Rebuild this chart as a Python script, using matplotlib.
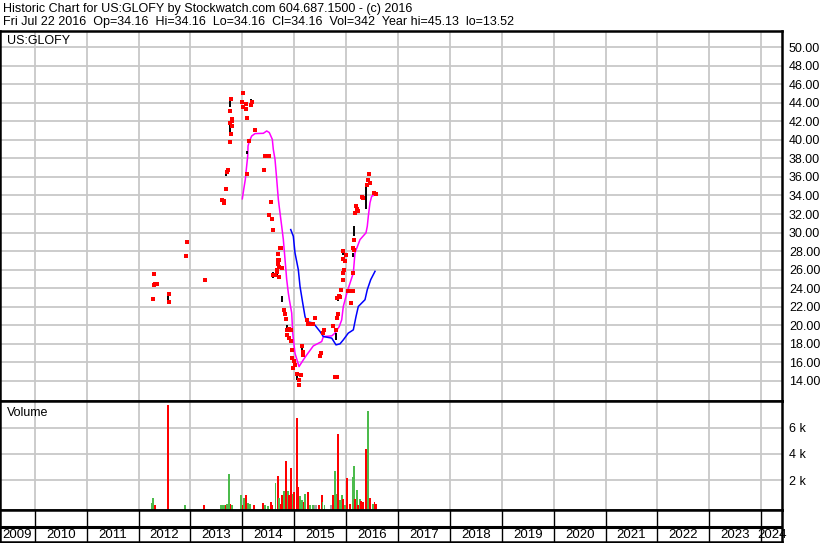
import matplotlib.pyplot as plt

plt.rcParams['font.family'] = ['Liberation Sans', 'DejaVu Sans']

# dates as decimal years
close_t = [2012.274, 2012.293, 2012.318, 2012.351, 2012.304, 2012.588, 2012.588, 2012.929, 2012.909,
           2013.276, 2013.609, 2013.647, 2013.647, 2013.686, 2013.719, 2013.705, 2013.782, 2013.757,
           2013.802, 2013.802, 2013.769, 2013.802, 2013.776, 2013.763, 2014.008, 2013.994, 2014.066,
           2014.008, 2014.066, 2014.187, 2014.168, 2014.091, 2014.245, 2014.123, 2014.096, 2014.412,
           2014.428, 2014.466, 2014.505, 2014.520, 2014.547, 2014.566, 2014.586, 2014.726, 2014.746,
           2014.682, 2014.694, 2014.713, 2014.682, 2014.707, 2014.759, 2014.663, 2014.674, 2014.597,
           2014.630, 2014.713, 2014.803, 2014.823, 2014.836, 2014.867, 2014.906, 2014.933, 2014.855,
           2014.906, 2014.938, 2014.958, 2014.952, 2015.002, 2015.015, 2014.971, 2015.060, 2015.098,
           2015.093, 2015.125, 2015.145, 2015.175, 2015.164, 2015.241, 2015.272, 2015.314, 2015.356,
           2015.401, 2015.580, 2015.561, 2015.516, 2015.497, 2015.786, 2015.815, 2015.742, 2015.805,
           2015.819, 2015.844, 2015.863, 2015.830, 2015.882, 2015.896, 2015.946, 2015.946, 2015.960,
           2015.979, 2015.946, 2015.998, 2015.934, 2016.031, 2016.089, 2016.077, 2016.139, 2016.139,
           2016.139, 2016.152, 2016.152, 2016.171, 2016.191, 2016.216, 2016.235, 2016.301, 2016.331,
           2016.408, 2016.428, 2016.460, 2016.447, 2016.537, 2016.576]
close_p = [22.86, 24.30, 24.45, 24.41, 25.49, 23.41, 22.51, 29.03, 27.44,
           24.84, 33.49, 33.35, 33.17, 34.68, 36.74, 36.49, 44.38, 43.08,
           42.22, 42.08, 41.86, 41.49, 40.63, 39.76, 45.03, 44.09, 43.87,
           43.59, 43.33, 44.09, 43.76, 42.32, 41.06, 39.84, 36.27, 36.74,
           38.25, 38.25, 38.25, 31.84, 33.28, 31.41, 30.32, 28.35, 28.35,
           27.70, 27.00, 27.00, 26.65, 26.25, 26.18, 25.92, 25.71, 25.38,
           25.38, 25.17, 21.68, 21.21, 20.70, 19.51, 19.59, 19.51, 18.97,
           18.62, 18.36, 17.35, 16.52, 16.19, 15.73, 15.37, 14.76, 14.11,
           13.52, 14.65, 17.78, 16.81, 17.17, 20.52, 20.16, 20.16, 20.16,
           20.84, 19.51, 19.22, 16.99, 16.73, 14.46, 14.46, 19.95, 19.51,
           20.78, 21.24, 23.11, 22.94, 23.05, 23.84, 24.84, 25.64, 25.92,
           26.90, 27.16, 27.62, 27.98, 23.65, 22.40, 23.65, 23.65, 25.64,
           28.35, 29.17, 28.16, 32.13, 32.84, 32.56, 32.30, 33.82, 33.75,
           35.08, 35.65, 35.37, 36.27, 34.29, 34.16]

# high-low ranges
hl_t = [2012.304, 2012.574, 2013.692, 2013.769, 2013.757, 2014.000, 2014.162, 2014.096, 2014.713,
        2014.663, 2014.590, 2014.771, 2014.861, 2015.145, 2015.060, 2015.844, 2015.934, 2016.152,
        2016.383, 2015.805, 2016.139]
hl_lo = [25.35, 22.46, 36.09, 43.59, 40.78, 44.81, 43.73, 38.43, 26.72,
         25.28, 25.10, 22.54, 19.30, 16.80, 14.10, 22.60, 27.60, 29.60,
         32.49, 18.40, 27.40]
hl_hi = [25.78, 23.62, 36.74, 44.49, 41.86, 45.13, 44.38, 38.79, 27.26,
         25.89, 25.70, 23.19, 20.05, 17.80, 15.00, 23.30, 28.20, 30.68,
         35.19, 19.20, 27.80]

# short moving average (magenta)
ma1_t = [2014.000, 2014.027, 2014.058, 2014.077, 2014.104, 2014.110, 2014.135, 2014.181, 2014.245,
         2014.405, 2014.470, 2014.520, 2014.578, 2014.597, 2014.630, 2014.663, 2014.694, 2014.726,
         2014.759, 2014.790, 2014.823, 2014.855, 2014.886, 2014.906, 2014.952, 2014.971, 2015.015,
         2015.093, 2015.175, 2015.241, 2015.368, 2015.530, 2015.561, 2015.723, 2015.786, 2015.869,
         2015.915, 2015.946, 2016.023, 2016.139, 2016.171, 2016.268, 2016.383, 2016.408, 2016.428,
         2016.460, 2016.493, 2016.576]
ma1_v = [33.64, 34.65, 35.73, 36.81, 38.25, 39.33, 39.84, 40.41, 40.67,
         40.70, 40.95, 40.78, 40.05, 38.97, 37.89, 35.73, 33.57, 32.13,
         30.68, 29.27, 27.11, 24.95, 23.51, 22.78, 21.32, 19.16, 16.99,
         15.55, 16.27, 16.81, 17.78, 18.25, 18.79, 18.86, 19.16, 19.88,
         20.59, 22.03, 23.65, 25.64, 27.81, 29.24, 29.97, 30.68, 31.76,
         33.21, 33.92, 34.11]

# long moving average (blue)
ma2_t = [2014.933, 2014.983, 2015.015, 2015.079, 2015.112, 2015.164, 2015.208, 2015.241, 2015.368,
         2015.497, 2015.561, 2015.723, 2015.805, 2015.882, 2015.946, 2016.042, 2016.139, 2016.191,
         2016.235, 2016.364, 2016.408, 2016.474, 2016.557]
ma2_v = [30.32, 29.60, 27.81, 26.00, 24.19, 22.40, 20.95, 20.41, 20.24,
         19.33, 18.79, 18.62, 17.89, 18.00, 18.43, 19.16, 19.51, 20.95,
         22.03, 22.76, 23.84, 24.92, 25.82]

# weekly volume, direction: 1 up, -1 down, 0 unchanged
vol_t = [2012.260, 2012.285, 2012.318, 2012.568, 2012.902, 2013.256, 2013.590, 2013.628, 2013.657,
         2013.686, 2013.705, 2013.744, 2013.773, 2013.802, 2013.975, 2014.010, 2014.037, 2014.071,
         2014.110, 2014.148, 2014.225, 2014.399, 2014.437, 2014.501, 2014.553, 2014.582, 2014.640,
         2014.682, 2014.707, 2014.746, 2014.771, 2014.798, 2014.848, 2014.875, 2014.906, 2014.938,
         2014.977, 2015.002, 2015.054, 2015.079, 2015.118, 2015.156, 2015.183, 2015.208, 2015.272,
         2015.299, 2015.362, 2015.401, 2015.430, 2015.478, 2015.530, 2015.545, 2015.584, 2015.709,
         2015.748, 2015.786, 2015.805, 2015.844, 2015.882, 2015.921, 2015.940, 2015.979, 2016.017,
         2016.075, 2016.127, 2016.152, 2016.171, 2016.210, 2016.229, 2016.268, 2016.287, 2016.326,
         2016.383, 2016.422, 2016.460, 2016.518, 2016.547, 2016.576]
vol_v = [250, 640, 120, 7720, 80, 80, 80, 80, 80,
         120, 180, 2480, 180, 60, 870, 60, 640, 870,
         250, 180, 60, 250, 60, 50, 330, 100, 1800,
         2280, 600, 180, 870, 1180, 3480, 1200, 870, 2900,
         900, 1100, 6720, 1500, 800, 500, 360, 950, 1100,
         60, 100, 60, 60, 60, 870, 330, 60, 60,
         870, 2720, 950, 5480, 480, 870, 560, 100, 2180,
         180, 2250, 3100, 560, 1250, 100, 560, 400, 330,
         4330, 7250, 640, 180, 330, 180]
vol_dir = [1, 1, -1, -1, 1, -1, 1, 1, 1,
           -1, 1, 1, -1, 1, 1, -1, 1, -1,
           1, 1, -1, -1, 1, 1, -1, -1, 1,
           -1, 1, -1, -1, 1, -1, 1, -1, -1,
           1, -1, -1, -1, 1, 1, -1, 1, -1,
           1, 1, 0, 0, -1, -1, 1, 1, 0,
           -1, 1, 1, -1, 1, 1, -1, 1, -1,
           -1, 1, 1, -1, 1, -1, 1, -1, -1,
           -1, 1, -1, 1, -1, -1]

years = list(range(2009, 2025))
price_ticks = list(range(14, 51, 2))
vol_ticks = [2000, 4000, 6000]
vol_labels = ['2 k', '4 k', '6 k']

W, H = 830, 543
x0, x1 = 2009.331, 2024.399
fig = plt.figure(figsize=(W / 100, H / 100), dpi=100)

def frac(left, top, right, bottom):
    return [left / W, 1 - bottom / H, (right - left) / W, (bottom - top) / H]

grid_c = '#c8c8c8'
fs = 9

ax = fig.add_axes(frac(0, 31, 782, 401))
ax.set_xlim(x0, x1)
ax.set_ylim(11.84, 51.73)
for y in years[1:]:
    ax.axvline(y, color=grid_c, lw=1.3, zorder=0)
for p in price_ticks:
    ax.axhline(p, color=grid_c, lw=1.3, zorder=0)
ax.plot(ma1_t, ma1_v, color='#ff00ff', lw=1.1, zorder=2)
ax.plot(ma2_t, ma2_v, color='#0000ff', lw=1.1, zorder=2)
ax.vlines(hl_t, hl_lo, hl_hi, color='black', lw=1.4, zorder=3)
ax.scatter(close_t, close_p, marker='s', s=5, color='#ff0000', linewidths=0, zorder=4)
ax.set_xticks([])
ax.yaxis.tick_right()
ax.set_yticks(price_ticks)
ax.set_yticklabels(['%.2f' % p for p in price_ticks], fontsize=fs)
ax.tick_params(axis='y', length=0, pad=5)
ax.text(7 / 782, 1 - 10 / 370, 'US:GLOFY', transform=ax.transAxes, fontsize=fs, va='center')
for s in ax.spines.values():
    s.set_linewidth(1.8)

axv = fig.add_axes(frac(0, 401, 782, 509.5))
vmin, vmax = -246, 8023
axv.set_xlim(x0, x1)
axv.set_ylim(vmin, vmax)
for y in years[1:]:
    axv.axvline(y, color=grid_c, lw=1.3, zorder=0)
for v in vol_ticks:
    axv.axhline(v, color=grid_c, lw=1.3, zorder=0)
cmap = {1: '#4cbb4c', -1: '#ff0000', 0: '#a0a0a0'}
axv.bar(vol_t, [v - vmin for v in vol_v], bottom=vmin, width=0.036,
        color=[cmap[d] for d in vol_dir], zorder=2)
axv.set_xticks([])
axv.yaxis.tick_right()
axv.set_yticks(vol_ticks)
axv.set_yticklabels(vol_labels, fontsize=fs)
axv.tick_params(axis='y', length=0, pad=5)
axv.text(7 / 782, 1 - 12 / 108.5, 'Volume', transform=axv.transAxes, fontsize=fs, va='center')
for s in axv.spines.values():
    s.set_linewidth(1.8)

axs = fig.add_axes(frac(0, 509.5, 782, 541.5))
axs.set_xlim(x0, x1)
axs.set_ylim(0, 32)
axs.axhline(14.5, color='black', lw=2.2)
axs.vlines(years[1:], 0, 32, color='black', lw=1)
for yr in years:
    a, b = max(yr, x0), min(yr + 1, x1)
    axs.text((a + b) / 2, 7, str(yr), fontsize=fs + 0.5, ha='center', va='center')
axs.set_xticks([])
axs.set_yticks([])
for s in axs.spines.values():
    s.set_linewidth(1.8)

fig.text(3 / W, 1 - 9 / H, 'Historic Chart for US:GLOFY by Stockwatch.com 604.687.1500 - (c) 2016',
         fontsize=fs, va='center')
fig.text(3 / W, 1 - 22 / H,
         'Fri Jul 22 2016  Op=34.16  Hi=34.16  Lo=34.16  Cl=34.16  Vol=342  Year hi=45.13  lo=13.52',
         fontsize=fs, va='center')

fig.savefig('out.png', dpi=100)
